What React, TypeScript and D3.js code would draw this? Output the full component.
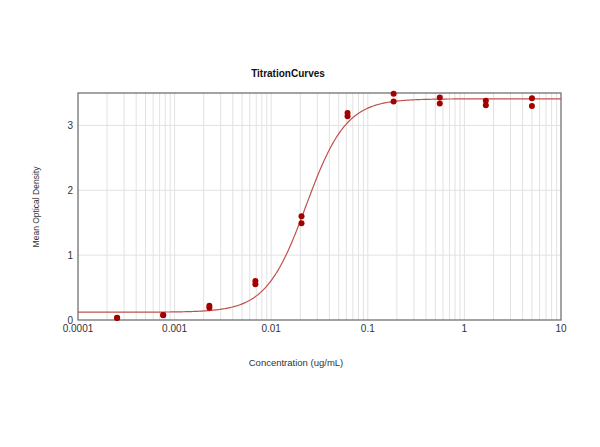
import React from "react";
import * as d3 from "d3";

const concentrations = [0.000254, 0.000762, 0.00229, 0.00686, 0.0206, 0.0617, 0.185, 0.556, 1.667, 5];
const replicate1 = [0.035, 0.077, 0.22, 0.6, 1.6, 3.19, 3.49, 3.43, 3.38, 3.42];
const replicate2 = [0.03, 0.072, 0.19, 0.55, 1.49, 3.14, 3.37, 3.34, 3.31, 3.3];
const fitBottom = 0.12;
const fitTop = 3.41;
const fitEC50 = 0.023;
const fitHill = 2.1;
const xTicks = [0.0001, 0.001, 0.01, 0.1, 1, 10];
const xTickLabels = ["0.0001", "0.001", "0.01", "0.1", "1", "10"];
const yTicks = [0, 1, 2, 3];

export default function App() {
  const W = 600, H = 447;
  const left = 78, right = 561, top = 93, bottom = 320;
  const x = d3.scaleLog().domain([0.0001, 10]).range([left, right]);
  const y = d3.scaleLinear().domain([0, 3.5]).range([bottom, top]);

  const minor: number[] = [];
  for (let e = -4; e < 1; e++) {
    for (let m = 2; m <= 9; m++) minor.push(m * Math.pow(10, e));
  }

  const fit = (c: number) => fitTop + (fitBottom - fitTop) / (1 + Math.pow(c / fitEC50, fitHill));
  const curveX = d3.range(0, 401).map(i => Math.pow(10, -4 + (5 * i) / 400));
  const line = d3.line<number>().x(c => x(c)).y(c => y(fit(c)));

  const font = "Liberation Sans, Arial, sans-serif";
  const pts: [number, number][] = [];
  concentrations.forEach((c, i) => {
    pts.push([c, replicate1[i]]);
    pts.push([c, replicate2[i]]);
  });

  return (
    <svg width={W} height={H} style={{ position: "absolute", left: 0, top: 0, background: "#fff" }}>
      <rect x={0} y={0} width={W} height={H} fill="#fff" />
      {minor.map((v, i) => (
        <line key={"m" + i} x1={x(v)} x2={x(v)} y1={top} y2={bottom} stroke="#e2e2e2" strokeWidth={1} />
      ))}
      {xTicks.slice(1, -1).map((v, i) => (
        <line key={"M" + i} x1={x(v)} x2={x(v)} y1={top} y2={bottom} stroke="#e2e2e2" strokeWidth={1} />
      ))}
      {yTicks.slice(1).map((v, i) => (
        <line key={"h" + i} x1={left} x2={right} y1={y(v)} y2={y(v)} stroke="#e2e2e2" strokeWidth={1} />
      ))}
      <rect x={left} y={top} width={right - left} height={bottom - top} fill="none" stroke="#666" strokeWidth={1.2} />
      <path d={line(curveX) || ""} fill="none" stroke="#c0504d" strokeWidth={1.2} />
      {pts.map((p, i) => (
        <circle key={"p" + i} cx={x(p[0])} cy={y(p[1])} r={3} fill="#a30000" />
      ))}
      {yTicks.map((v, i) => (
        <text key={"yt" + i} x={left - 5} y={y(v) + 3.5} textAnchor="end" fontFamily={font} fontSize={10} fill="#333">{v}</text>
      ))}
      {xTicks.map((v, i) => (
        <text key={"xt" + i} x={x(v)} y={bottom + 12} textAnchor="middle" fontFamily={font} fontSize={10} fill="#333">{xTickLabels[i]}</text>
      ))}
      <text x={288} y={77} textAnchor="middle" fontFamily={font} fontSize={10} fontWeight="bold" fill="#111">TitrationCurves</text>
      <text x={296} y={366} textAnchor="middle" fontFamily={font} fontSize={9.5} fill="#333">Concentration (ug/mL)</text>
      <text transform={`translate(39,207) rotate(-90)`} textAnchor="middle" fontFamily={font} fontSize={8.5} fill="#333">Mean Optical Density</text>
    </svg>
  );
}
